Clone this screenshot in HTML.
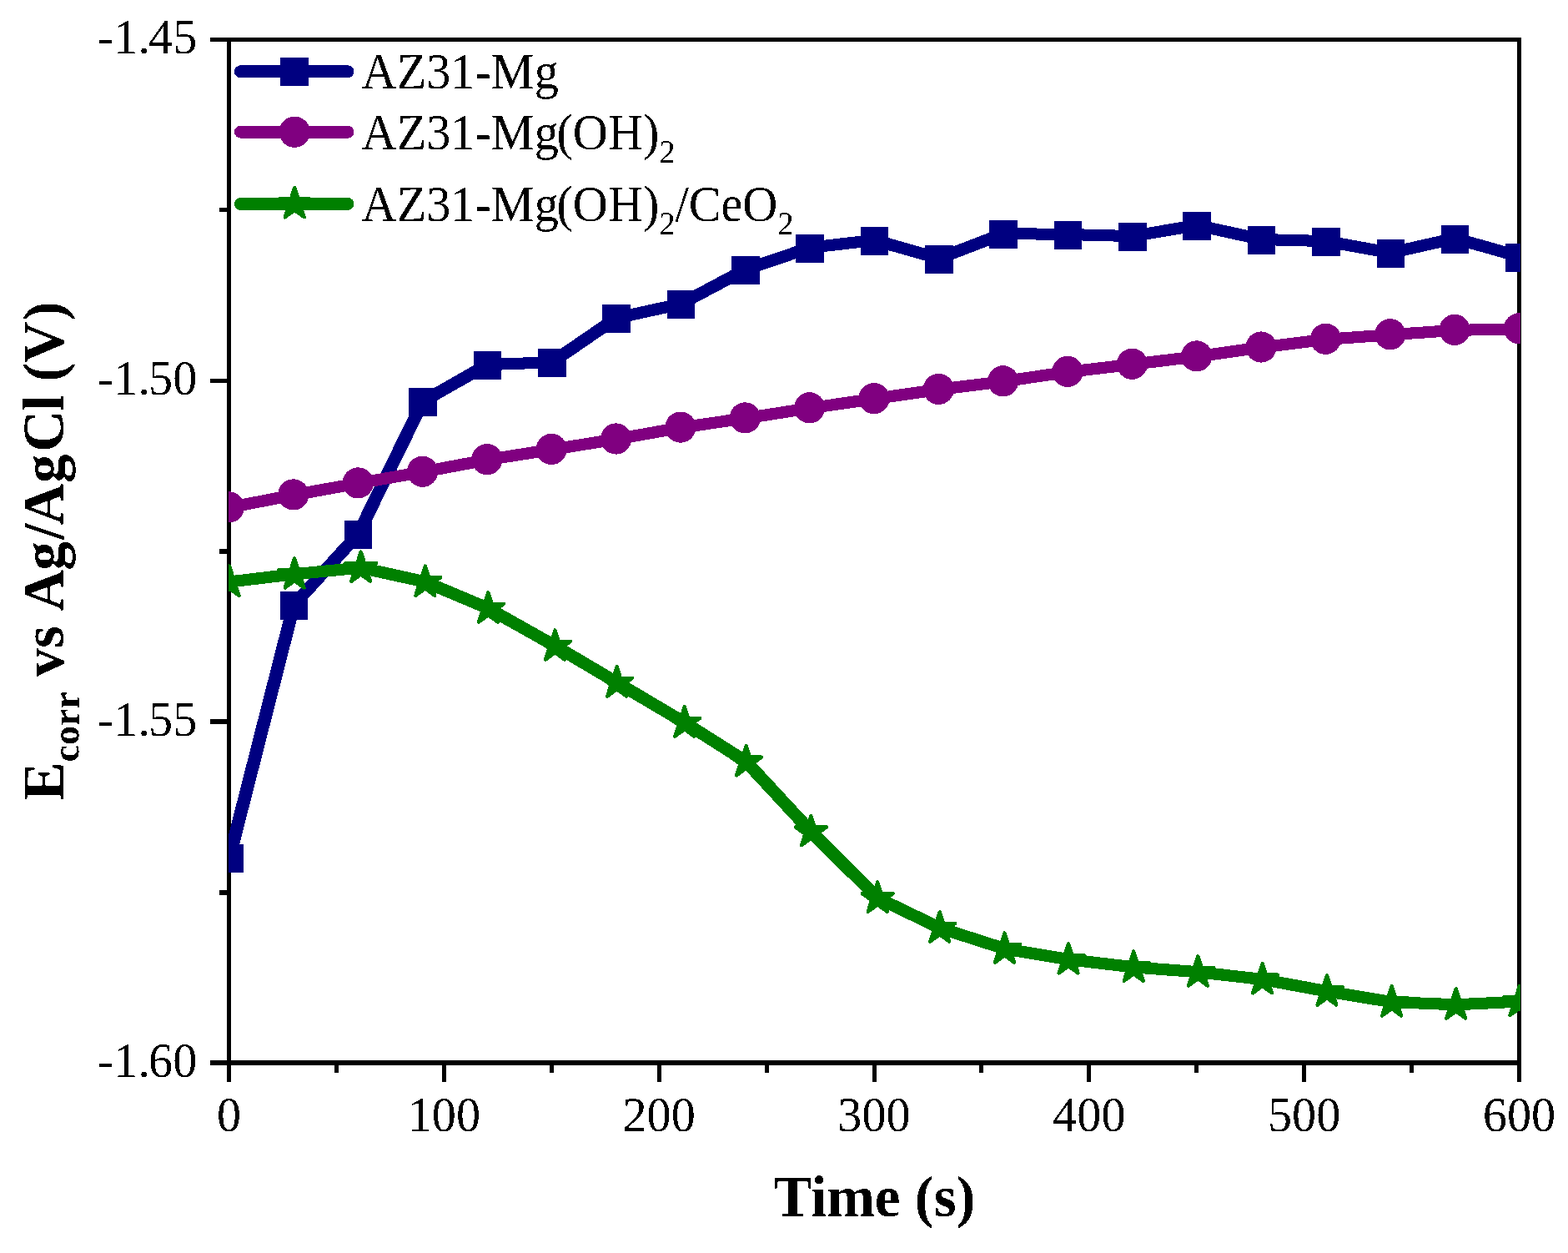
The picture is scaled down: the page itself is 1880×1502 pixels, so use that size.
<!DOCTYPE html>
<html lang="en"><head><meta charset="utf-8"><title>Ecorr vs Time</title>
<style>html,body{margin:0;padding:0;background:#fff}svg{display:block}text{font-family:"Liberation Serif","DejaVu Serif",serif;fill:#000;filter:url(#bw)}.tk{font-size:59.5px}.lg{font-size:61px}.sb{font-size:40px}.ti{font-size:69px;font-weight:bold}.ts{font-size:46px}</style></head><body>
<svg width="1880" height="1502" viewBox="0 0 1880 1502">
<rect x="0" y="0" width="1880" height="1502" fill="#fff"/>
<defs><clipPath id="cp"><rect x="274" y="45" width="1549" height="1232"/></clipPath><filter id="bw" x="-5%" y="-20%" width="110%" height="140%" color-interpolation-filters="sRGB"><feComponentTransfer><feFuncA type="discrete" tableValues="0 1"/></feComponentTransfer></filter></defs>
<g shape-rendering="crispEdges">
<rect x="272" y="45" width="1552" height="5" fill="#000"/>
<rect x="272" y="1271" width="1552" height="6" fill="#000"/>
<rect x="272" y="45" width="5" height="1232" fill="#000"/>
<rect x="1819" y="45" width="5" height="1232" fill="#000"/>
<rect x="272" y="1277" width="5" height="20" fill="#000"/>
<rect x="401" y="1277" width="5" height="9" fill="#000"/>
<rect x="530" y="1277" width="5" height="20" fill="#000"/>
<rect x="659" y="1277" width="5" height="9" fill="#000"/>
<rect x="788" y="1277" width="5" height="20" fill="#000"/>
<rect x="917" y="1277" width="5" height="9" fill="#000"/>
<rect x="1046" y="1277" width="5" height="20" fill="#000"/>
<rect x="1174" y="1277" width="5" height="9" fill="#000"/>
<rect x="1303" y="1277" width="5" height="20" fill="#000"/>
<rect x="1432" y="1277" width="5" height="9" fill="#000"/>
<rect x="1561" y="1277" width="5" height="20" fill="#000"/>
<rect x="1690" y="1277" width="5" height="9" fill="#000"/>
<rect x="1819" y="1277" width="5" height="20" fill="#000"/>
<rect x="252" y="45" width="20" height="5" fill="#000"/>
<rect x="263" y="249" width="9" height="5" fill="#000"/>
<rect x="252" y="454" width="20" height="5" fill="#000"/>
<rect x="263" y="658" width="9" height="6" fill="#000"/>
<rect x="252" y="862" width="20" height="6" fill="#000"/>
<rect x="263" y="1067" width="9" height="6" fill="#000"/>
<rect x="252" y="1271" width="20" height="6" fill="#000"/>
</g>
<text class="tk" transform="translate(274.5 1356.4) scale(0.979 1)" text-anchor="middle">0</text>
<text class="tk" transform="translate(532.33 1356.4) scale(0.979 1)" text-anchor="middle">100</text>
<text class="tk" transform="translate(790.17 1356.4) scale(0.979 1)" text-anchor="middle">200</text>
<text class="tk" transform="translate(1048 1356.4) scale(0.979 1)" text-anchor="middle">300</text>
<text class="tk" transform="translate(1305.83 1356.4) scale(0.979 1)" text-anchor="middle">400</text>
<text class="tk" transform="translate(1563.67 1356.4) scale(0.979 1)" text-anchor="middle">500</text>
<text class="tk" transform="translate(1821.5 1356.4) scale(0.979 1)" text-anchor="middle">600</text>
<text class="tk" transform="translate(236.3 64.2) scale(0.979 1)" x="-121.94 -102.12 -72.38 -59.5 -29.75">-1.45</text>
<text class="tk" transform="translate(236.3 473.2) scale(0.979 1)" x="-121.94 -102.12 -72.38 -59.5 -29.75">-1.50</text>
<text class="tk" transform="translate(236.3 882.2) scale(0.979 1)" x="-121.94 -102.12 -72.38 -59.5 -29.75">-1.55</text>
<text class="tk" transform="translate(236.3 1291.2) scale(0.979 1)" x="-121.94 -102.12 -72.38 -59.5 -29.75">-1.60</text>
<text class="ti" x="1048.5" y="1458" text-anchor="middle">Time (s)</text>
<text class="ti" transform="translate(75.6 958.49) rotate(-90)"><tspan x="-1">E</tspan><tspan class="ts" dy="19" x="45.02 65.45 88.45 108.87">corr</tspan><tspan dy="-19" x="129.3 147.05 181.55 208.39 225.64 274.75 311.85 329.04 379.45 416.75 465.77 484.45 501.1 523.18 573.9"> vs Ag/AgCl (V)</tspan></text>
<g clip-path="url(#cp)" shape-rendering="crispEdges">
<g stroke="#000080" stroke-linecap="round" fill="none"><line x1="275" y1="1028.3" x2="352.35" y2="725.1" stroke-width="15.55"/><line x1="352.35" y1="725.1" x2="429.7" y2="639.9" stroke-width="15.18"/><line x1="429.7" y1="639.9" x2="507.05" y2="481.2" stroke-width="15.44"/><line x1="507.05" y1="481.2" x2="584.4" y2="437.1" stroke-width="14.79"/><line x1="584.4" y1="437.1" x2="661.75" y2="434.3" stroke-width="14.06"/><line x1="661.75" y1="434.3" x2="739.09" y2="381.2" stroke-width="14.91"/><line x1="739.09" y1="381.2" x2="816.44" y2="364.3" stroke-width="14.34"/><line x1="816.44" y1="364.3" x2="893.79" y2="323.1" stroke-width="14.75"/><line x1="893.79" y1="323.1" x2="971.14" y2="296.8" stroke-width="14.52"/><line x1="971.14" y1="296.8" x2="1048.49" y2="287.9" stroke-width="14.18"/><line x1="1048.49" y1="287.9" x2="1125.84" y2="309.8" stroke-width="14.44"/><line x1="1125.84" y1="309.8" x2="1203.19" y2="280" stroke-width="14.58"/><line x1="1203.19" y1="280" x2="1280.54" y2="281" stroke-width="14.02"/><line x1="1280.54" y1="281" x2="1357.89" y2="283.1" stroke-width="14.04"/><line x1="1357.89" y1="283.1" x2="1435.24" y2="270" stroke-width="14.27"/><line x1="1435.24" y1="270" x2="1512.58" y2="287" stroke-width="14.34"/><line x1="1512.58" y1="287" x2="1589.93" y2="289.1" stroke-width="14.04"/><line x1="1589.93" y1="289.1" x2="1667.28" y2="303.1" stroke-width="14.28"/><line x1="1667.28" y1="303.1" x2="1744.63" y2="285.7" stroke-width="14.35"/><line x1="1744.63" y1="285.7" x2="1821.98" y2="307.6" stroke-width="14.44"/></g>
<rect x="258.25" y="1012.3" width="33.5" height="34" fill="#000080"/>
<rect x="335.6" y="709.1" width="33.5" height="34" fill="#000080"/>
<rect x="412.95" y="623.9" width="33.5" height="34" fill="#000080"/>
<rect x="490.3" y="465.2" width="33.5" height="34" fill="#000080"/>
<rect x="567.65" y="421.1" width="33.5" height="34" fill="#000080"/>
<rect x="645" y="418.3" width="33.5" height="34" fill="#000080"/>
<rect x="722.34" y="365.2" width="33.5" height="34" fill="#000080"/>
<rect x="799.69" y="348.3" width="33.5" height="34" fill="#000080"/>
<rect x="877.04" y="307.1" width="33.5" height="34" fill="#000080"/>
<rect x="954.39" y="280.8" width="33.5" height="34" fill="#000080"/>
<rect x="1031.74" y="271.9" width="33.5" height="34" fill="#000080"/>
<rect x="1109.09" y="293.8" width="33.5" height="34" fill="#000080"/>
<rect x="1186.44" y="264" width="33.5" height="34" fill="#000080"/>
<rect x="1263.79" y="265" width="33.5" height="34" fill="#000080"/>
<rect x="1341.14" y="267.1" width="33.5" height="34" fill="#000080"/>
<rect x="1418.49" y="254" width="33.5" height="34" fill="#000080"/>
<rect x="1495.83" y="271" width="33.5" height="34" fill="#000080"/>
<rect x="1573.18" y="273.1" width="33.5" height="34" fill="#000080"/>
<rect x="1650.53" y="287.1" width="33.5" height="34" fill="#000080"/>
<rect x="1727.88" y="269.7" width="33.5" height="34" fill="#000080"/>
<rect x="1805.23" y="291.6" width="33.5" height="34" fill="#000080"/>
<g stroke="#800080" stroke-linecap="round" fill="none"><line x1="274.5" y1="608.4" x2="351.85" y2="593.4" stroke-width="14.3"/><line x1="351.85" y1="593.4" x2="429.2" y2="579.4" stroke-width="14.28"/><line x1="429.2" y1="579.4" x2="506.55" y2="565.8" stroke-width="14.28"/><line x1="506.55" y1="565.8" x2="583.9" y2="551.2" stroke-width="14.3"/><line x1="583.9" y1="551.2" x2="661.25" y2="538.9" stroke-width="14.25"/><line x1="661.25" y1="538.9" x2="738.59" y2="526.5" stroke-width="14.25"/><line x1="738.59" y1="526.5" x2="815.94" y2="512.6" stroke-width="14.28"/><line x1="815.94" y1="512.6" x2="893.29" y2="501.4" stroke-width="14.23"/><line x1="893.29" y1="501.4" x2="970.64" y2="489.3" stroke-width="14.25"/><line x1="970.64" y1="489.3" x2="1047.99" y2="478.1" stroke-width="14.23"/><line x1="1047.99" y1="478.1" x2="1125.34" y2="466.9" stroke-width="14.23"/><line x1="1125.34" y1="466.9" x2="1202.69" y2="457.3" stroke-width="14.2"/><line x1="1202.69" y1="457.3" x2="1280.04" y2="445.9" stroke-width="14.23"/><line x1="1280.04" y1="445.9" x2="1357.39" y2="436.8" stroke-width="14.19"/><line x1="1357.39" y1="436.8" x2="1434.74" y2="427.4" stroke-width="14.19"/><line x1="1434.74" y1="427.4" x2="1512.08" y2="416.5" stroke-width="14.22"/><line x1="1512.08" y1="416.5" x2="1589.43" y2="406.8" stroke-width="14.2"/><line x1="1589.43" y1="406.8" x2="1666.78" y2="401.3" stroke-width="14.11"/><line x1="1666.78" y1="401.3" x2="1744.13" y2="395.9" stroke-width="14.11"/><line x1="1744.13" y1="395.9" x2="1821.48" y2="394.3" stroke-width="14.03"/></g>
<circle cx="274.5" cy="607.9" r="18.6" fill="#800080"/>
<circle cx="351.85" cy="592.9" r="18.6" fill="#800080"/>
<circle cx="429.2" cy="578.9" r="18.6" fill="#800080"/>
<circle cx="506.55" cy="565.3" r="18.6" fill="#800080"/>
<circle cx="583.9" cy="550.7" r="18.6" fill="#800080"/>
<circle cx="661.25" cy="538.4" r="18.6" fill="#800080"/>
<circle cx="738.59" cy="526" r="18.6" fill="#800080"/>
<circle cx="815.94" cy="512.1" r="18.6" fill="#800080"/>
<circle cx="893.29" cy="500.9" r="18.6" fill="#800080"/>
<circle cx="970.64" cy="488.8" r="18.6" fill="#800080"/>
<circle cx="1047.99" cy="477.6" r="18.6" fill="#800080"/>
<circle cx="1125.34" cy="466.4" r="18.6" fill="#800080"/>
<circle cx="1202.69" cy="456.8" r="18.6" fill="#800080"/>
<circle cx="1280.04" cy="445.4" r="18.6" fill="#800080"/>
<circle cx="1357.39" cy="436.3" r="18.6" fill="#800080"/>
<circle cx="1434.74" cy="426.9" r="18.6" fill="#800080"/>
<circle cx="1512.08" cy="416" r="18.6" fill="#800080"/>
<circle cx="1589.43" cy="406.3" r="18.6" fill="#800080"/>
<circle cx="1666.78" cy="400.8" r="18.6" fill="#800080"/>
<circle cx="1744.13" cy="395.4" r="18.6" fill="#800080"/>
<circle cx="1821.48" cy="393.8" r="18.6" fill="#800080"/>
<g stroke="#008000" stroke-linecap="round" fill="none"><line x1="275" y1="697.5" x2="353.1" y2="688.2" stroke-width="14.19"/><line x1="353.1" y1="688.2" x2="432.7" y2="680.5" stroke-width="14.15"/><line x1="432.7" y1="680.5" x2="509.8" y2="697.5" stroke-width="14.34"/><line x1="509.8" y1="697.5" x2="585.4" y2="729.3" stroke-width="14.62"/><line x1="585.4" y1="729.3" x2="665.5" y2="774.3" stroke-width="14.78"/><line x1="665.5" y1="774.3" x2="739.6" y2="818.2" stroke-width="14.82"/><line x1="739.6" y1="818.2" x2="820.8" y2="866.2" stroke-width="14.81"/><line x1="820.8" y1="866.2" x2="894.6" y2="913" stroke-width="14.86"/><line x1="894.6" y1="913" x2="972.4" y2="996.9" stroke-width="15.17"/><line x1="972.4" y1="996.9" x2="1052.2" y2="1076.4" stroke-width="15.13"/><line x1="1052.2" y1="1076.4" x2="1126.7" y2="1112.3" stroke-width="14.69"/><line x1="1126.7" y1="1112.3" x2="1204.5" y2="1137.3" stroke-width="14.49"/><line x1="1204.5" y1="1137.3" x2="1281.1" y2="1150.1" stroke-width="14.26"/><line x1="1281.1" y1="1150.1" x2="1359.2" y2="1159.4" stroke-width="14.19"/><line x1="1359.2" y1="1159.4" x2="1436.4" y2="1165.2" stroke-width="14.12"/><line x1="1436.4" y1="1165.2" x2="1513.6" y2="1174" stroke-width="14.18"/><line x1="1513.6" y1="1174" x2="1591" y2="1188.3" stroke-width="14.29"/><line x1="1591" y1="1188.3" x2="1668.6" y2="1201.1" stroke-width="14.26"/><line x1="1668.6" y1="1201.1" x2="1745.7" y2="1204.3" stroke-width="14.07"/><line x1="1745.7" y1="1204.3" x2="1822" y2="1200.6" stroke-width="14.08"/></g>
<polygon points="275,678.6 279.38,692.07 293.55,692.07 282.08,700.4 286.46,713.88 275,705.55 263.54,713.88 267.92,700.4 256.45,692.07 270.62,692.07" fill="#008000" stroke="#008000" stroke-width="4.3" stroke-linejoin="round"/>
<polygon points="353.1,669.3 357.48,682.77 371.65,682.77 360.18,691.1 364.56,704.58 353.1,696.25 341.64,704.58 346.02,691.1 334.55,682.77 348.72,682.77" fill="#008000" stroke="#008000" stroke-width="4.3" stroke-linejoin="round"/>
<polygon points="432.7,661.6 437.08,675.07 451.25,675.07 439.78,683.4 444.16,696.88 432.7,688.55 421.24,696.88 425.62,683.4 414.15,675.07 428.32,675.07" fill="#008000" stroke="#008000" stroke-width="4.3" stroke-linejoin="round"/>
<polygon points="509.8,678.6 514.18,692.07 528.35,692.07 516.88,700.4 521.26,713.88 509.8,705.55 498.34,713.88 502.72,700.4 491.25,692.07 505.42,692.07" fill="#008000" stroke="#008000" stroke-width="4.3" stroke-linejoin="round"/>
<polygon points="585.4,710.4 589.78,723.87 603.95,723.87 592.48,732.2 596.86,745.68 585.4,737.35 573.94,745.68 578.32,732.2 566.85,723.87 581.02,723.87" fill="#008000" stroke="#008000" stroke-width="4.3" stroke-linejoin="round"/>
<polygon points="665.5,755.4 669.88,768.87 684.05,768.87 672.58,777.2 676.96,790.68 665.5,782.35 654.04,790.68 658.42,777.2 646.95,768.87 661.12,768.87" fill="#008000" stroke="#008000" stroke-width="4.3" stroke-linejoin="round"/>
<polygon points="739.6,799.3 743.98,812.77 758.15,812.77 746.68,821.1 751.06,834.58 739.6,826.25 728.14,834.58 732.52,821.1 721.05,812.77 735.22,812.77" fill="#008000" stroke="#008000" stroke-width="4.3" stroke-linejoin="round"/>
<polygon points="820.8,847.3 825.18,860.77 839.35,860.77 827.88,869.1 832.26,882.58 820.8,874.25 809.34,882.58 813.72,869.1 802.25,860.77 816.42,860.77" fill="#008000" stroke="#008000" stroke-width="4.3" stroke-linejoin="round"/>
<polygon points="894.6,894.1 898.98,907.57 913.15,907.57 901.68,915.9 906.06,929.38 894.6,921.05 883.14,929.38 887.52,915.9 876.05,907.57 890.22,907.57" fill="#008000" stroke="#008000" stroke-width="4.3" stroke-linejoin="round"/>
<polygon points="972.4,978 976.78,991.47 990.95,991.47 979.48,999.8 983.86,1013.28 972.4,1004.95 960.94,1013.28 965.32,999.8 953.85,991.47 968.02,991.47" fill="#008000" stroke="#008000" stroke-width="4.3" stroke-linejoin="round"/>
<polygon points="1052.2,1057.5 1056.58,1070.97 1070.75,1070.97 1059.28,1079.3 1063.66,1092.78 1052.2,1084.45 1040.74,1092.78 1045.12,1079.3 1033.65,1070.97 1047.82,1070.97" fill="#008000" stroke="#008000" stroke-width="4.3" stroke-linejoin="round"/>
<polygon points="1126.7,1093.4 1131.08,1106.87 1145.25,1106.87 1133.78,1115.2 1138.16,1128.68 1126.7,1120.35 1115.24,1128.68 1119.62,1115.2 1108.15,1106.87 1122.32,1106.87" fill="#008000" stroke="#008000" stroke-width="4.3" stroke-linejoin="round"/>
<polygon points="1204.5,1118.4 1208.88,1131.87 1223.05,1131.87 1211.58,1140.2 1215.96,1153.68 1204.5,1145.35 1193.04,1153.68 1197.42,1140.2 1185.95,1131.87 1200.12,1131.87" fill="#008000" stroke="#008000" stroke-width="4.3" stroke-linejoin="round"/>
<polygon points="1281.1,1131.2 1285.48,1144.67 1299.65,1144.67 1288.18,1153 1292.56,1166.48 1281.1,1158.15 1269.64,1166.48 1274.02,1153 1262.55,1144.67 1276.72,1144.67" fill="#008000" stroke="#008000" stroke-width="4.3" stroke-linejoin="round"/>
<polygon points="1359.2,1140.5 1363.58,1153.97 1377.75,1153.97 1366.28,1162.3 1370.66,1175.78 1359.2,1167.45 1347.74,1175.78 1352.12,1162.3 1340.65,1153.97 1354.82,1153.97" fill="#008000" stroke="#008000" stroke-width="4.3" stroke-linejoin="round"/>
<polygon points="1436.4,1146.3 1440.78,1159.77 1454.95,1159.77 1443.48,1168.1 1447.86,1181.58 1436.4,1173.25 1424.94,1181.58 1429.32,1168.1 1417.85,1159.77 1432.02,1159.77" fill="#008000" stroke="#008000" stroke-width="4.3" stroke-linejoin="round"/>
<polygon points="1513.6,1155.1 1517.98,1168.57 1532.15,1168.57 1520.68,1176.9 1525.06,1190.38 1513.6,1182.05 1502.14,1190.38 1506.52,1176.9 1495.05,1168.57 1509.22,1168.57" fill="#008000" stroke="#008000" stroke-width="4.3" stroke-linejoin="round"/>
<polygon points="1591,1169.4 1595.38,1182.87 1609.55,1182.87 1598.08,1191.2 1602.46,1204.68 1591,1196.35 1579.54,1204.68 1583.92,1191.2 1572.45,1182.87 1586.62,1182.87" fill="#008000" stroke="#008000" stroke-width="4.3" stroke-linejoin="round"/>
<polygon points="1668.6,1182.2 1672.98,1195.67 1687.15,1195.67 1675.68,1204 1680.06,1217.48 1668.6,1209.15 1657.14,1217.48 1661.52,1204 1650.05,1195.67 1664.22,1195.67" fill="#008000" stroke="#008000" stroke-width="4.3" stroke-linejoin="round"/>
<polygon points="1745.7,1185.4 1750.08,1198.87 1764.25,1198.87 1752.78,1207.2 1757.16,1220.68 1745.7,1212.35 1734.24,1220.68 1738.62,1207.2 1727.15,1198.87 1741.32,1198.87" fill="#008000" stroke="#008000" stroke-width="4.3" stroke-linejoin="round"/>
<polygon points="1822,1181.7 1826.38,1195.17 1840.55,1195.17 1829.08,1203.5 1833.46,1216.98 1822,1208.65 1810.54,1216.98 1814.92,1203.5 1803.45,1195.17 1817.62,1195.17" fill="#008000" stroke="#008000" stroke-width="4.3" stroke-linejoin="round"/>
</g>
<g shape-rendering="crispEdges">
<line x1="288.5" y1="85.8" x2="417" y2="85.8" stroke="#000080" stroke-width="15" stroke-linecap="round"/>
<rect x="336.45" y="69" width="33.5" height="34" fill="#000080"/>
<line x1="288.5" y1="158.2" x2="417" y2="158.2" stroke="#800080" stroke-width="15" stroke-linecap="round"/>
<circle cx="353.2" cy="158.2" r="18.6" fill="#800080"/>
<line x1="288.5" y1="244.4" x2="417" y2="244.4" stroke="#008000" stroke-width="15" stroke-linecap="round"/>
<polygon points="353.2,225 357.58,238.47 371.75,238.47 360.28,246.8 364.66,260.28 353.2,251.95 341.74,260.28 346.12,246.8 334.65,238.47 348.82,238.47" fill="#008000" stroke="#008000" stroke-width="4.3" stroke-linejoin="round"/>
</g>
<text class="lg" transform="translate(433.6 106) scale(0.955 1)">AZ31-Mg</text>
<text class="lg" transform="translate(433.6 178.5) scale(0.955 1)">AZ31-Mg<tspan dx="-2.4">(OH)</tspan><tspan class="sb" dy="16.5">2</tspan></text>
<text class="lg" transform="translate(433.6 264.5) scale(0.955 1)">AZ31-Mg<tspan dx="-2.4">(OH)</tspan><tspan class="sb" dy="16.5">2</tspan><tspan dy="-16.5">/CeO</tspan><tspan class="sb" dy="16.5">2</tspan></text>
</svg></body></html>
